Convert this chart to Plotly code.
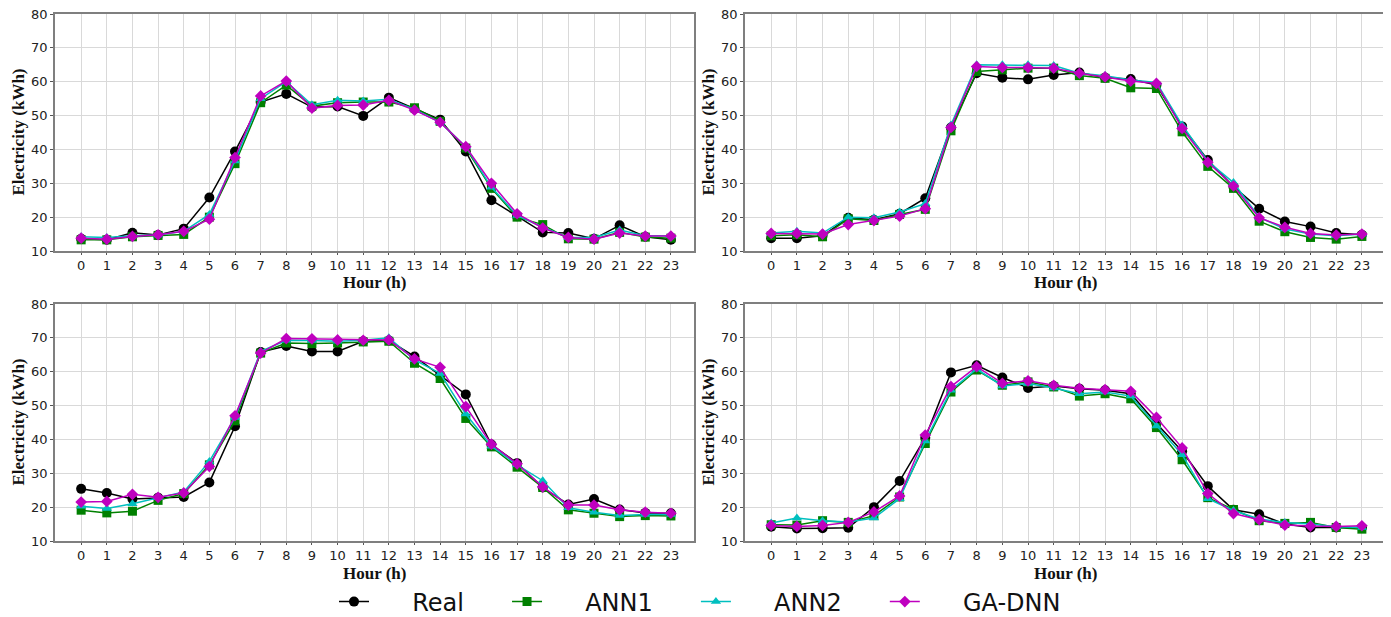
import plotly.graph_objs as go

hours = list(range(24))
series_names = ['Real', 'ANN1', 'ANN2', 'GA-DNN']

# panel 1 (top left)
p1_real = [13.6, 13.3, 15.4, 14.7, 16.6, 25.8, 39.4, 54.0, 56.4, 52.5, 52.7, 49.9, 55.3, 52.0, 48.8, 39.4, 25.0, 20.3, 15.5, 15.3, 13.6, 17.6, 14.2, 13.3]
p1_ann1 = [13.3, 13.3, 14.2, 14.6, 14.9, 20.0, 35.8, 53.8, 59.0, 52.8, 53.8, 54.0, 54.0, 52.3, 48.3, 40.4, 28.5, 20.0, 17.8, 13.6, 13.5, 15.5, 14.1, 13.8]
p1_ann2 = [14.2, 14.0, 14.5, 14.7, 15.8, 20.8, 36.6, 55.0, 60.0, 53.2, 54.5, 54.3, 54.8, 51.8, 48.0, 40.8, 28.8, 20.5, 17.0, 14.0, 14.0, 16.2, 14.5, 14.5]
p1_gadnn = [13.8, 13.5, 14.3, 14.8, 15.8, 19.4, 37.6, 55.8, 60.2, 52.2, 53.0, 53.1, 54.5, 51.6, 48.0, 40.8, 30.0, 21.0, 16.8, 14.0, 13.5, 15.3, 14.4, 14.4]

# panel 2 (top right)
p2_real = [13.8, 13.8, 14.5, 19.8, 19.2, 21.0, 25.6, 46.5, 62.5, 61.2, 60.7, 62.0, 62.7, 61.2, 60.8, 59.0, 46.8, 36.9, 29.0, 22.5, 18.7, 17.2, 15.3, 14.8]
p2_ann1 = [14.5, 14.8, 14.2, 19.5, 19.0, 20.8, 22.3, 45.5, 63.0, 63.5, 64.0, 64.0, 61.8, 61.0, 58.2, 58.0, 45.2, 35.0, 28.5, 18.8, 15.7, 14.0, 13.5, 14.3]
p2_ann2 = [15.3, 15.8, 15.3, 20.0, 19.8, 21.5, 24.0, 47.2, 65.0, 65.0, 65.0, 64.8, 62.5, 61.8, 60.5, 59.8, 47.2, 36.5, 30.2, 20.0, 16.5, 15.0, 14.5, 15.0]
p2_gadnn = [15.2, 15.2, 15.0, 17.8, 19.0, 20.3, 22.5, 46.5, 64.5, 64.2, 64.2, 64.0, 62.5, 61.4, 60.2, 59.5, 46.2, 36.2, 29.2, 19.8, 17.0, 15.2, 14.7, 15.0]

# panel 3 (bottom left)
p3_real = [25.4, 24.2, 22.4, 22.8, 23.0, 27.3, 43.9, 65.8, 67.6, 66.0, 66.0, 69.0, 69.2, 64.5, 59.0, 53.3, 38.5, 33.0, 25.8, 20.8, 22.4, 19.3, 18.3, 18.2]
p3_ann1 = [19.1, 18.3, 18.8, 22.0, 24.0, 32.5, 45.5, 65.5, 68.5, 68.3, 68.5, 68.8, 69.0, 62.5, 58.0, 46.2, 37.8, 31.8, 25.8, 19.2, 18.2, 17.2, 17.5, 17.4]
p3_ann2 = [20.3, 19.6, 21.0, 22.8, 24.5, 33.5, 46.5, 66.0, 69.3, 69.2, 69.0, 69.3, 70.0, 63.5, 59.5, 47.5, 38.0, 32.5, 27.8, 19.8, 18.5, 17.5, 17.8, 17.8]
p3_gadnn = [21.5, 21.7, 23.8, 22.9, 24.2, 32.0, 47.0, 65.5, 69.8, 69.7, 69.4, 69.3, 69.4, 63.8, 61.3, 49.7, 38.6, 32.8, 26.0, 20.6, 20.6, 19.2, 18.5, 18.2]

# panel 4 (bottom right)
p4_real = [14.2, 13.7, 13.8, 13.9, 20.0, 27.7, 40.5, 59.8, 61.9, 58.3, 55.2, 55.8, 55.0, 54.5, 53.5, 44.8, 36.5, 26.2, 19.2, 17.9, 15.0, 14.0, 14.0, 14.0]
p4_ann1 = [14.8, 14.7, 16.0, 15.5, 17.5, 23.0, 38.8, 54.0, 60.5, 56.0, 57.0, 55.5, 52.8, 53.5, 52.0, 43.5, 34.0, 22.8, 19.3, 16.0, 15.2, 15.5, 14.0, 13.5]
p4_ann2 = [15.3, 16.8, 16.0, 15.6, 16.8, 22.5, 39.5, 54.5, 60.8, 55.8, 56.5, 55.2, 53.5, 54.0, 52.8, 44.0, 35.5, 22.5, 19.0, 16.5, 15.5, 15.0, 14.2, 14.0]
p4_gadnn = [14.6, 14.3, 14.6, 15.5, 18.6, 23.3, 41.3, 55.6, 61.5, 56.6, 57.3, 56.0, 55.1, 54.7, 54.2, 46.5, 37.5, 24.0, 18.1, 16.3, 14.7, 14.4, 14.3, 14.5]

panels = [
    [p1_real, p1_ann1, p1_ann2, p1_gadnn],
    [p2_real, p2_ann1, p2_ann2, p2_gadnn],
    [p3_real, p3_ann1, p3_ann2, p3_gadnn],
    [p4_real, p4_ann1, p4_ann2, p4_gadnn],
]

colors = ['#000000', '#008000', '#00BFBF', '#BF00BF']
symbols = ['circle', 'square', 'triangle-up', 'diamond']

W, H = 1391, 617
OFF = 8  # page body margin shifts the figure on screen
# plot boxes in screen pixels: (left, right, top, bottom)
boxes = [(55, 694, 14, 251), (745, 1385, 14, 251),
         (55, 694, 304, 541), (745, 1385, 304, 541)]

tick_font = dict(family='DejaVu Sans', size=13, color='#222222')
title_font = dict(family='Liberation Serif', size=17, color='#111111')
pad = '\u00a0' * 5

fig = go.Figure()
layout = dict(
    width=W, height=H,
    margin=dict(l=0, r=0, t=0, b=0),
    paper_bgcolor='white', plot_bgcolor='white',
    showlegend=True,
    legend=dict(orientation='h', x=(332 - 6) / W, xanchor='left',
                y=1 - (602 - OFF) / H, yanchor='middle',
                font=dict(family='DejaVu Sans', size=24, color='#111111')),
    annotations=[],
)

for i, (vals, box) in enumerate(zip(panels, boxes)):
    n = '' if i == 0 else str(i + 1)
    left, right, top, bottom = [v - OFF for v in box]
    for j, name in enumerate(series_names):
        fig.add_trace(go.Scatter(
            x=hours, y=vals[j], name=pad + name + pad, mode='lines+markers',
            xaxis='x' + n, yaxis='y' + n,
            line=dict(color=colors[j], width=1.5),
            marker=dict(symbol=symbols[j], size=9 if j != 0 else 10, color=colors[j],
                        line=dict(width=0)),
            showlegend=(i == 0),
        ))
    layout['xaxis' + n] = dict(
        domain=[left / W, right / W], anchor='y' + n, automargin=False,
        range=[-1.02, 23.9], tickmode='array', tickvals=hours,
        ticktext=[str(h) for h in hours], tickfont=tick_font,
        showgrid=True, gridcolor='#d9d9d9', gridwidth=1,
        showline=True, linecolor='#7f7f7f', linewidth=1.5, mirror=True,
        ticks='outside', ticklen=2, tickcolor='#555555', zeroline=False,
        ticklabeloverflow='allow',
    )
    layout['yaxis' + n] = dict(
        domain=[1 - bottom / H, 1 - top / H], anchor='x' + n, automargin=False,
        range=[10, 80], tickvals=[10, 20, 30, 40, 50, 60, 70, 80], tickfont=tick_font,
        showgrid=True, gridcolor='#d9d9d9', gridwidth=1,
        showline=True, linecolor='#7f7f7f', linewidth=1.5, mirror=True,
        ticks='outside', ticklen=3, tickcolor='#555555', zeroline=False,
        ticklabeloverflow='allow',
    )
    layout['annotations'].append(dict(
        text='<b>Hour (h)</b>', font=title_font, showarrow=False,
        xref='paper', yref='paper', x=(left + right) / 2 / W, xanchor='center',
        y=1 - (bottom + 32) / H, yanchor='middle'))
    layout['annotations'].append(dict(
        text='<b>Electricity (kWh)</b>', font=title_font, showarrow=False, textangle=-90,
        xref='paper', yref='paper', x=(left - 37) / W, xanchor='center',
        y=1 - (top + bottom) / 2 / H, yanchor='middle'))

fig.update_layout(**layout)
fig.write_html('out.html')
